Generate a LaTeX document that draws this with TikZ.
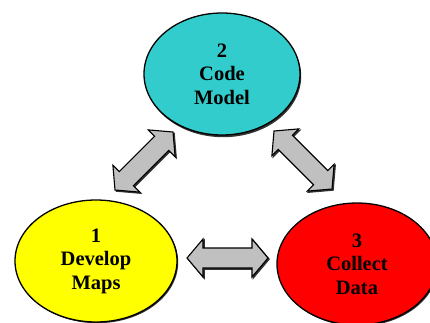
\documentclass[tikz,border=0pt]{standalone}
\usepackage{fontspec}
\setmainfont{Liberation Serif}
\usetikzlibrary{shapes.geometric}
\definecolor{topc}{HTML}{33CCCC}
\definecolor{leftc}{HTML}{FFFF00}
\definecolor{rightc}{HTML}{FF0000}
\definecolor{arrc}{HTML}{C0C0C0}
\tikzset{
  stage/.style={ellipse, draw=black, line width=1.3pt, align=center,
    font=\bfseries\fontsize{20.5}{23.5}\selectfont, inner sep=0pt},
  dblarr/.style={fill=arrc, draw=black, line width=1.1pt, line join=miter},
  shade/.style={fill=black!80, draw=black!80, line width=1.1pt}
}
\newcommand\dblarrow[4]{%
  \begin{scope}[shift={(#1+1.2,#2+1.2)}, rotate=#3]
    \path[shade] (-#4/2,0) -- (-#4/2+16,19) -- (-#4/2+16,10) -- (#4/2-16,10) -- (#4/2-16,19) -- (#4/2,0)
      -- (#4/2-16,-19) -- (#4/2-16,-10) -- (-#4/2+16,-10) -- (-#4/2+16,-19) -- cycle;
  \end{scope}
  \begin{scope}[shift={(#1,#2)}, rotate=#3]
    \path[dblarr] (-#4/2,0) -- (-#4/2+16,19) -- (-#4/2+16,10) -- (#4/2-16,10) -- (#4/2-16,19) -- (#4/2,0)
      -- (#4/2-16,-19) -- (#4/2-16,-10) -- (-#4/2+16,-10) -- (-#4/2+16,-19) -- cycle;
  \end{scope}}
\begin{document}
\begin{tikzpicture}[x=1pt,y=-1pt]
\useasboundingbox (0,0) rectangle (430,322);
\clip (0,0) rectangle (430,322);
\fill[white] (0,0) rectangle (430,322);
% shadows of ellipses
\fill[black!80] (223.2,76.2) ellipse [x radius=78pt, y radius=61pt];
\fill[black!80] (97.2,262.2) ellipse [x radius=81pt, y radius=61pt];
\fill[black!80] (358.2,265.2) ellipse [x radius=80pt, y radius=61pt];
\node[stage, fill=topc, minimum width=156pt, minimum height=122pt] (code) at (222,74) {2\\Code\\Model};
\node[stage, fill=leftc, minimum width=162pt, minimum height=122pt] (maps) at (96,261) {1\\Develop\\Maps};
\node[stage, fill=rightc, minimum width=160pt, minimum height=122pt] (data) at (357,264) {3\\Collect\\Data};
\dblarrow{227.5}{258}{0}{81}
\dblarrow{144}{161}{45}{82}
\dblarrow{303}{160}{-45}{82}
\end{tikzpicture}
\end{document}
